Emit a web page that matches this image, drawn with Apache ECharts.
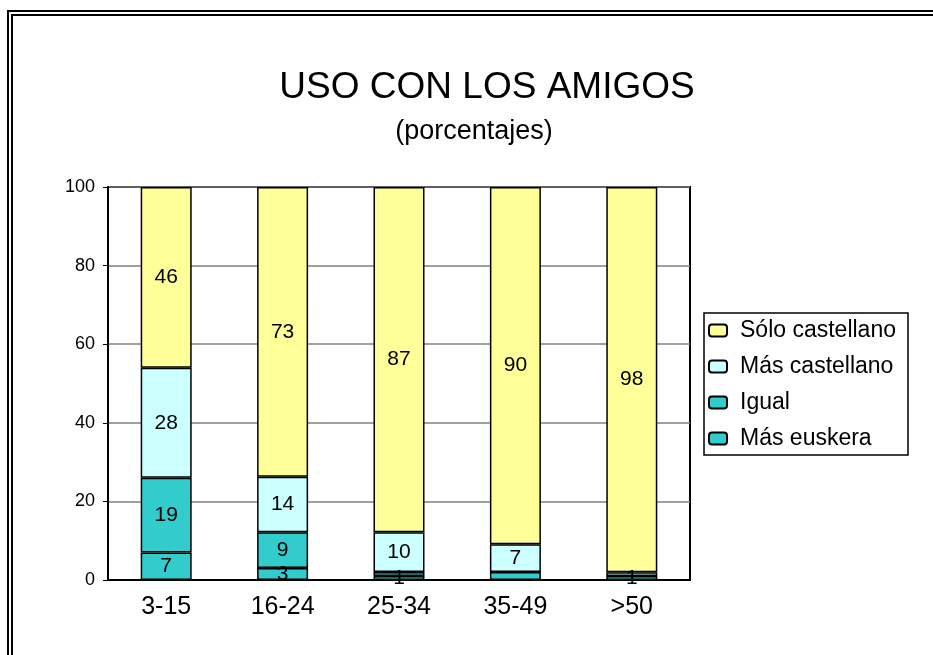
<!DOCTYPE html>
<html>
<head>
<meta charset="utf-8">
<script src="https://cdn.jsdelivr.net/npm/echarts@6/dist/echarts.min.js"></script>
<style>
  html, body { margin: 0; padding: 0; background: #fff; }
  .frame {
    position: absolute; left: 7px; top: 10px;
    width: 1000px; height: 700px;
    border: 6px double #000;
    box-sizing: border-box;
  }
  #chart { position: absolute; left: 0; top: 0; width: 933px; height: 655px; }
</style>
</head>
<body>
<div class="frame"></div>
<div id="chart"></div>
<script>
const groups = ["3-15", "16-24", "25-34", "35-49", ">50"];
const masEuskera = [7, 3, 1, 0, 0];
const igual = [19, 9, 1, 2, 1];
const masCastellano = [28, 14, 10, 7, 1];
const soloCastellano = [46, 73, 87, 90, 98];
const yTicks = [0, 20, 40, 60, 80, 100];

// 100% stacked: every column is scaled to its own total
const totals = groups.map((g, i) =>
  masEuskera[i] + igual[i] + masCastellano[i] + soloCastellano[i]);
const share = (arr) => arr.map((v, i) => ({ value: v / totals[i] * 100, raw: v }));

const chart = echarts.init(document.getElementById("chart"));

function makeSeries(name, arr, color) {
  return {
    name: name,
    type: "bar",
    stack: "total",
    barWidth: 51,
    data: share(arr),
    itemStyle: { color: color, borderColor: "#000", borderWidth: 1.5 },
    label: {
      show: true,
      position: "inside",
      color: "#000",
      fontSize: 21,
      fontFamily: "Liberation Sans",
      formatter: (p) => (p.data.raw > 0 ? String(p.data.raw) : ""),
    },
    labelLayout: { hideOverlap: true },
  };
}

chart.setOption({
  backgroundColor: "transparent",
  animation: false,
  title: [
    {
      text: "USO CON LOS AMIGOS",
      left: 482, top: 64, textAlign: "center",
      textStyle: { fontSize: 37, fontWeight: "normal", color: "#000", fontFamily: "Liberation Sans" },
    },
    {
      text: "(porcentajes)",
      left: 469, top: 113, textAlign: "center",
      textStyle: { fontSize: 27, fontWeight: "normal", color: "#000", fontFamily: "Liberation Sans" },
    },
  ],
  legend: {
    orient: "vertical",
    left: 704, top: 313,
    data: ["Sólo castellano", "Más castellano", "Igual", "Más euskera"],
    itemWidth: 18, itemHeight: 12, itemGap: 13,
    padding: [6, 12, 5, 4],
    borderColor: "#000", borderWidth: 1.5,
    textStyle: { fontSize: 23, color: "#000", fontFamily: "Liberation Sans", padding: [0, 0, 0, 8] },
  },
  grid: {
    left: 108, right: 243, top: 187, bottom: 75,
    show: true, borderColor: "#000", borderWidth: 2,
  },
  xAxis: {
    type: "category",
    data: groups,
    axisLine: { lineStyle: { color: "#000", width: 2 } },
    axisTick: { show: false },
    axisLabel: { fontSize: 25, color: "#000", margin: 15, fontFamily: "Liberation Sans" },
  },
  yAxis: {
    type: "value",
    min: yTicks[0], max: yTicks[yTicks.length - 1], interval: 20,
    axisLine: { show: true, lineStyle: { color: "#000", width: 2 } },
    axisTick: { show: true, length: 5, lineStyle: { color: "#000" } },
    axisLabel: { fontSize: 18, color: "#000", margin: 13, fontFamily: "Liberation Sans" },
    splitLine: { lineStyle: { color: "#808080", width: 1.5 } },
  },
  series: [
    makeSeries("Más euskera", masEuskera, "#33CCCC"),
    makeSeries("Igual", igual, "#33CCCC"),
    makeSeries("Más castellano", masCastellano, "#CCFFFF"),
    makeSeries("Sólo castellano", soloCastellano, "#FFFF99"),
  ],
});
</script>
</body>
</html>
